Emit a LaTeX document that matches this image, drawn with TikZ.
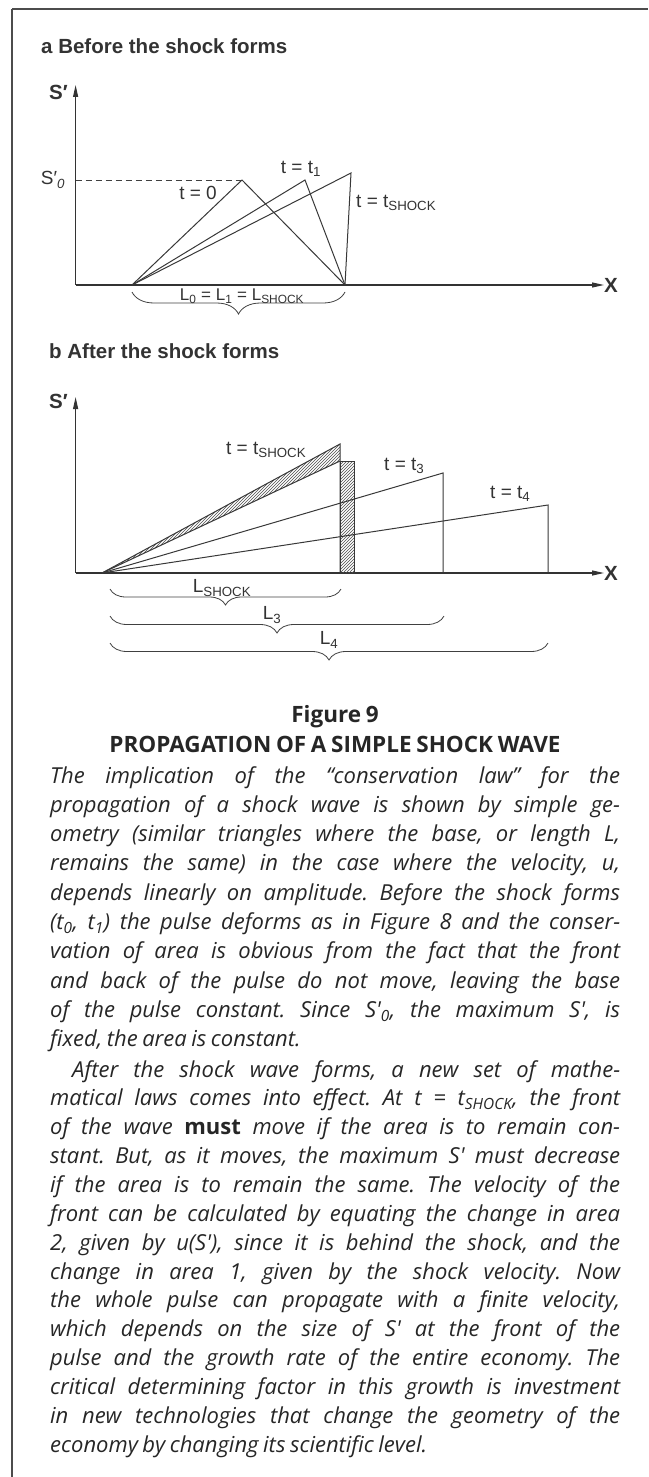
\documentclass[tikz,border=0pt]{standalone}
\usepackage{fontspec}
\setmainfont{Open Sans}[WordSpace=0.8]
\setsansfont{Liberation Sans}
\frenchspacing
\usetikzlibrary{arrows.meta,patterns,decorations.pathreplacing}

\begin{document}
\begin{tikzpicture}[x=1pt,y=-1pt,
    ink/.style={draw=black!78, line width=1pt},
    axis/.style={draw=black!80, line width=1.1pt, -{Triangle[length=12pt,width=5pt]}},
    ttl/.style={font=\sffamily\bfseries\fontsize{20.5}{24}\selectfont, text=black!80, inner sep=0},
    lbl/.style={font=\sffamily\fontsize{19}{22}\selectfont, text=black!80, inner sep=0},
    brc/.style={draw=black!75, line width=0.8pt, decorate, decoration={brace, amplitude=#1}},
    brc/.default=16pt,
    txt/.style={font=\itshape\fontsize{22}{29}\selectfont, text=black!85, inner sep=0, anchor=base west},
    captxt/.style={font=\bfseries\fontsize{22.5}{24}\selectfont, text=black!85, inner sep=0, anchor=base}]
    \useasboundingbox (0,0) rectangle (648,1477);
    % frame
    \draw[draw=black!70, line width=2pt] (12,9) -- (648,9);
    \draw[draw=black!70, line width=1.5pt] (12,9) -- (12,1477);

    % a: before the shock forms
    \node[ttl, anchor=base west] (ta) at (41,54) {a Before the shock forms};
    \coordinate (oa) at (75.6,285);
    \coordinate (ya) at (75.6,85);
    \coordinate (xa) at (604,285);
    \draw[axis] (oa) -- (ya);
    \draw[axis] (oa) -- (xa);
    \node[ttl, anchor=base west] (sa) at (49,100) {S′};
    \node[ttl, anchor=west] (xla) at (604,285) {X};
    \coordinate (al) at (132,285);
    \coordinate (ar) at (345,285);
    \coordinate (a0) at (242,180);
    \coordinate (a1) at (305,180);
    \coordinate (as) at (351,173);
    \draw[draw=black!75, line width=0.9pt, dash pattern=on 6pt off 4pt] (75.6,180) -- (a0);
    \draw[ink] (al) -- (a0) -- (ar);
    \draw[ink] (al) -- (a1) -- (ar);
    \draw[ink] (al) -- (as) -- (ar);
    \node[lbl] (s0) at (53,180) {S′\textsubscript{\itshape 0}};
    \node[lbl] (t0) at (198,193) {t = 0};
    \node[lbl] (t1) at (301,169) {t = t\textsubscript{1}};
    \node[lbl, anchor=west] (tsa) at (356,203) {t = t\textsubscript{SHOCK}};
    \draw[brc=22pt] (345,292) -- (132,292);
    \node[lbl, font=\sffamily\fontsize{17}{20}\selectfont] (la) at (242,296) {L\textsubscript{0} = L\textsubscript{1} = L\textsubscript{SHOCK}};

    % b: after the shock forms
    \node[ttl, anchor=base west] (tb) at (49,358) {b After the shock forms};
    \coordinate (ob) at (75.6,573);
    \coordinate (yb) at (75.6,397);
    \coordinate (xb) at (604,573);
    \draw[axis] (ob) -- (yb);
    \draw[axis] (ob) -- (xb);
    \node[ttl, anchor=base west] (sb) at (49,408) {S′};
    \node[ttl, anchor=west] (xlb) at (604,573) {X};
    \coordinate (bl) at (102,573);
    \coordinate (bs) at (340,444);
    \coordinate (bn) at (340,461);
    \coordinate (b3) at (443,473);
    \coordinate (b4) at (548,505);
    \fill[pattern=north east lines, pattern color=black!70] (bl) -- (bs) -- (bn) -- cycle;
    \filldraw[pattern=north east lines, pattern color=black!70, draw=black!78, line width=1pt] (bn) rectangle (354,573);
    \draw[ink] (bl) -- (bs) -- (340,573);
    \draw[ink] (bl) -- (bn);
    \draw[ink] (bl) -- (b3) -- (443,573);
    \draw[ink] (bl) -- (b4) -- (548,573);
    \node[lbl, anchor=west] (tsb) at (226,450) {t = t\textsubscript{SHOCK}};
    \node[lbl, anchor=west] (t3) at (384,466) {t = t\textsubscript{3}};
    \node[lbl, anchor=west] (t4) at (490,494) {t = t\textsubscript{4}};
    \draw[brc] (341,589) -- (110,589);
    \node[lbl] (lsh) at (222,588) {L\textsubscript{SHOCK}};
    \draw[brc=17pt] (444,616) -- (110,616);
    \node[lbl] (l3) at (272,615) {L\textsubscript{3}};
    \draw[brc=17pt] (548,643) -- (110,643);
    \node[lbl] (l4) at (329,640) {L\textsubscript{4}};

    % caption
    \node[captxt] (fig) at (335,722) {Figure 9};
    \node[captxt] (hd) at (335,752) {PROPAGATION OF A SIMPLE SHOCK WAVE};
    \node[txt] (p1a) at (50,783) {\makebox[570pt][s]{The implication of the “conservation law” for the}};
    \node[txt] (p1b) at (50,812.3) {\makebox[570pt][s]{propagation of a shock wave is shown by simple ge-}};
    \node[txt] (p1c) at (50,841.6) {\makebox[570pt][s]{ometry (similar triangles where the base, or length L,}};
    \node[txt] (p1d) at (50,870.9) {\makebox[570pt][s]{remains the same) in the case where the velocity, u,}};
    \node[txt] (p1e) at (50,900.2) {\makebox[570pt][s]{depends linearly on amplitude. Before the shock forms}};
    \node[txt] (p1f) at (50,929.5) {\makebox[570pt][s]{(t\textsubscript{0}, t\textsubscript{1}) the pulse deforms as in Figure 8 and the conser-}};
    \node[txt] (p1g) at (50,958.8) {\makebox[570pt][s]{vation of area is obvious from the fact that the front}};
    \node[txt] (p1h) at (50,988.1) {\makebox[570pt][s]{and back of the pulse do not move, leaving the base}};
    \node[txt] (p1i) at (50,1017.4) {\makebox[570pt][s]{of the pulse constant. Since S\textquotesingle\textsubscript{0}, the maximum S\textquotesingle, is}};
    \node[txt] (p1j) at (50,1046.7) {fixed, the area is constant.};
    \node[txt] (p2a) at (72,1077) {\makebox[548pt][s]{After the shock wave forms, a new set of mathe-}};
    \node[txt] (p2b) at (50,1105.9) {\makebox[570pt][s]{matical laws comes into effect. At t = t\textsubscript{SHOCK}, the front}};
    \node[txt] (p2c) at (50,1134.7) {\makebox[570pt][s]{of the wave {\upshape\bfseries must} move if the area is to remain con-}};
    \node[txt] (p2d) at (50,1163.6) {\makebox[570pt][s]{stant. But, as it moves, the maximum S\textquotesingle{} must decrease}};
    \node[txt] (p2e) at (50,1192.4) {\makebox[570pt][s]{if the area is to remain the same. The velocity of the}};
    \node[txt] (p2f) at (50,1221.3) {\makebox[570pt][s]{front can be calculated by equating the change in area}};
    \node[txt] (p2g) at (50,1250.1) {\makebox[570pt][s]{2, given by u(S\textquotesingle), since it is behind the shock, and the}};
    \node[txt] (p2h) at (50,1279) {\makebox[570pt][s]{change in area 1, given by the shock velocity. Now}};
    \node[txt] (p2i) at (50,1307.8) {\makebox[570pt][s]{the whole pulse can propagate with a finite velocity,}};
    \node[txt] (p2j) at (50,1336.7) {\makebox[570pt][s]{which depends on the size of S\textquotesingle{} at the front of the}};
    \node[txt] (p2k) at (50,1365.5) {\makebox[570pt][s]{pulse and the growth rate of the entire economy. The}};
    \node[txt] (p2l) at (50,1394.4) {\makebox[570pt][s]{critical determining factor in this growth is investment}};
    \node[txt] (p2m) at (50,1423.2) {\makebox[570pt][s]{in new technologies that change the geometry of the}};
    \node[txt] (p2n) at (50,1452) {economy by changing its scientific level.};
\end{tikzpicture}
\end{document}
